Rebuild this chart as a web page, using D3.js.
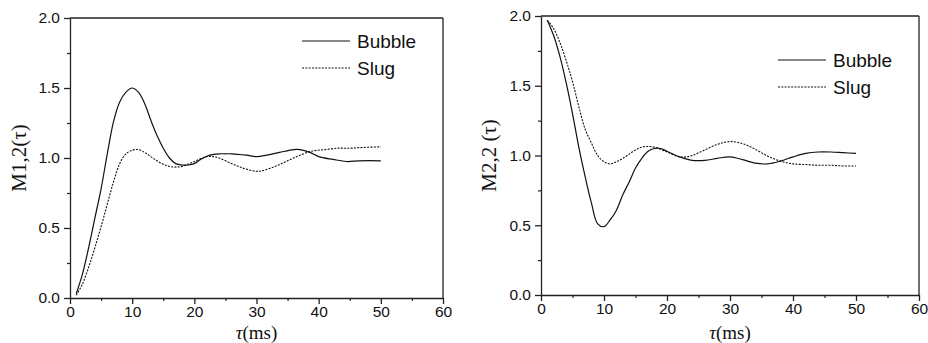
<!DOCTYPE html>
<html>
<head>
<meta charset="utf-8">
<script src="https://cdn.jsdelivr.net/npm/d3@7"></script>
<style>
html,body{margin:0;padding:0;background:#fff;}
svg{display:block;}
</style>
</head>
<body>
<svg id="c" width="928" height="343"></svg>
<script>
// ---- data ----
const tauLeftBubble = [1,2,3,4,5,6,7,8,9,10,11,12,13,14,15,16,17,18,19,20,21,22.5,24,25,26,28.4,30,31.6,33.7,36,37,38.6,40,42.3,44.5,46.6,50];
const m12Bubble = [0.03,0.17,0.36,0.57,0.78,1.03,1.26,1.40,1.47,1.50,1.47,1.39,1.27,1.16,1.07,1.00,0.96,0.95,0.95,0.96,0.99,1.02,1.03,1.03,1.03,1.02,1.01,1.02,1.04,1.06,1.06,1.04,1.01,0.99,0.975,0.98,0.98];
const tauLeftSlug = [1,2,3,4,5,6,7,8,9,10,11,12,13,14,15,16,17,18,20,22,23,24,26,28,30,31,33,35,37,39,41,43,45,47,50];
const m12Slug = [0.02,0.10,0.22,0.36,0.51,0.67,0.83,0.96,1.03,1.055,1.06,1.04,1.01,0.98,0.955,0.94,0.935,0.94,0.975,1.01,1.01,1.00,0.96,0.925,0.905,0.91,0.94,0.98,1.02,1.05,1.06,1.07,1.07,1.075,1.08];

const tauRightBubble = [1,2,3,4,5,6,7,8,9,10,11,12,13,14,15,16,17,18,19,20,22,24,26,28,30,32,34,36,38,40,42,44,46,48,50];
const m22Bubble = [1.97,1.86,1.71,1.52,1.30,1.06,0.85,0.66,0.51,0.49,0.54,0.61,0.72,0.81,0.91,0.98,1.03,1.05,1.05,1.03,0.99,0.965,0.965,0.98,0.99,0.97,0.945,0.94,0.96,0.99,1.015,1.025,1.025,1.02,1.015];
const tauRightSlug = [1,2,3,4,5,6,7,8,9,10,11,12,13,14,15,16,17,18,20,22,23,24,26,28,30,32,34,36,38,40,42,44,46,48,50];
const m22Slug = [1.97,1.91,1.81,1.68,1.53,1.35,1.19,1.09,1.00,0.955,0.94,0.955,0.98,1.01,1.04,1.06,1.065,1.06,1.025,0.99,0.99,1.00,1.04,1.08,1.10,1.085,1.045,0.995,0.96,0.94,0.935,0.93,0.93,0.925,0.925];

const xTicks = [0,10,20,30,40,50,60];
const xMinor = [5,15,25,35,45,55];
const yTicks = [0.0,0.5,1.0,1.5,2.0];
const yMinor = [0.25,0.75,1.25,1.75];
const seriesNames = ["Bubble","Slug"];

// ---- drawing ----
const svg = d3.select("#c");
const SANS = "'Liberation Sans', Arial, sans-serif";
const SERIF = "'Liberation Serif', 'Times New Roman', serif";

function panel(opt){
  const x = d3.scaleLinear().domain([0,60]).range([opt.x0, opt.x1]);
  const y = d3.scaleLinear().domain([0,2]).range([opt.y0, opt.y1]);
  const g = svg.append("g");
  const axisColor = "#222";

  // frame top & right
  g.append("line").attr("x1",opt.x0).attr("x2",opt.x1).attr("y1",opt.y1).attr("y2",opt.y1)
    .attr("stroke",axisColor).attr("stroke-width",1.3);
  g.append("line").attr("x1",opt.x1).attr("x2",opt.x1).attr("y1",opt.y1).attr("y2",opt.y0)
    .attr("stroke",axisColor).attr("stroke-width",1.3);

  // x axis
  const xa = g.append("g").attr("transform",`translate(0,${opt.y0})`)
    .call(d3.axisBottom(x).tickValues(xTicks).tickFormat(d3.format("d")).tickSize(6).tickSizeOuter(0).tickPadding(2));
  xa.selectAll("line,path").attr("stroke",axisColor).attr("stroke-width",1.3);
  xa.selectAll("text").attr("font-family",SANS).attr("font-size","15.5px").attr("fill","#111");
  const xm = g.append("g").attr("transform",`translate(0,${opt.y0})`)
    .call(d3.axisBottom(x).tickValues(xMinor).tickFormat("").tickSize(3).tickSizeOuter(0));
  xm.select("path").remove();
  xm.selectAll("line").attr("stroke",axisColor).attr("stroke-width",1.2);

  // y axis
  const ya = g.append("g").attr("transform",`translate(${opt.x0},0)`)
    .call(d3.axisLeft(y).tickValues(yTicks).tickFormat(d3.format(".1f")).tickSize(6).tickSizeOuter(0).tickPadding(4));
  ya.selectAll("line,path").attr("stroke",axisColor).attr("stroke-width",1.3);
  ya.selectAll("text").attr("font-family",SANS).attr("font-size","15.5px").attr("fill","#111");
  const ym = g.append("g").attr("transform",`translate(${opt.x0},0)`)
    .call(d3.axisLeft(y).tickValues(yMinor).tickFormat("").tickSize(3).tickSizeOuter(0));
  ym.select("path").remove();
  ym.selectAll("line").attr("stroke",axisColor).attr("stroke-width",1.2);

  // lines
  const line = d3.line().x(d=>x(d[0])).y(d=>y(d[1])).curve(d3.curveCatmullRom.alpha(0.5));
  g.append("path").datum(d3.zip(opt.bx,opt.by)).attr("d",line)
    .attr("fill","none").attr("stroke","#111").attr("stroke-width",1.2);
  g.append("path").datum(d3.zip(opt.sx,opt.sy)).attr("d",line)
    .attr("fill","none").attr("stroke","#111").attr("stroke-width",1.1).attr("stroke-dasharray","2,1.3");

  // legend
  const L = opt.legend;
  [0,1].forEach(i=>{
    const yy = L.y + i*L.dy;
    g.append("line").attr("x1",L.x).attr("x2",L.x+48).attr("y1",yy).attr("y2",yy)
      .attr("stroke","#111").attr("stroke-width",i?1.1:1.2).attr("stroke-dasharray",i?"2,1.3":null);
    g.append("text").attr("x",L.x+55).attr("y",yy+7).text(seriesNames[i])
      .attr("font-family",SANS).attr("font-size","19px").attr("fill","#111");
  });

  // x title
  const xt = g.append("text").attr("x",(opt.x0+opt.x1)/2).attr("y",339)
    .attr("text-anchor","middle").attr("font-family",SERIF).attr("font-size","19px").attr("fill","#111");
  xt.append("tspan").attr("font-style","italic").text("τ");
  xt.append("tspan").text("(ms)");

  // y title
  g.append("text").attr("transform",`translate(${opt.ylx},${(opt.y0+opt.y1)/2}) rotate(-90)`)
    .attr("text-anchor","middle").attr("font-family",SERIF).attr("font-size","21px").attr("fill","#111")
    .text(opt.ylabel);
}

panel({x0:70,x1:443,y0:298,y1:18,bx:tauLeftBubble,by:m12Bubble,sx:tauLeftSlug,sy:m12Slug,
  legend:{x:302,y:41,dy:27}, ylabel:"M1,2(τ)", ylx:26});
panel({x0:541,x1:919,y0:295,y1:16,bx:tauRightBubble,by:m22Bubble,sx:tauRightSlug,sy:m22Slug,
  legend:{x:778,y:60,dy:27}, ylabel:"M2,2 (τ)", ylx:496});
</script>
</body>
</html>
